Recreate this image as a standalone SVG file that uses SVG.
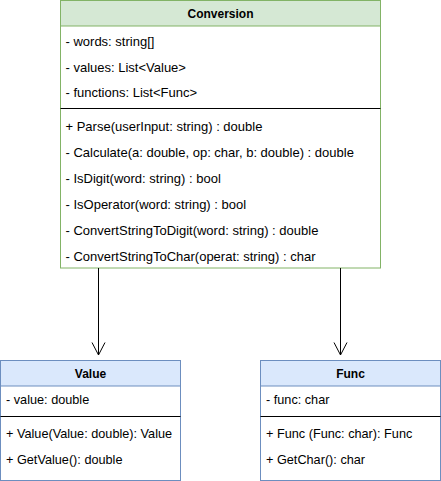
<svg xmlns="http://www.w3.org/2000/svg" width="441" height="481" viewBox="0 0 441 481">
<style>
text{font-family:"Liberation Sans",Arial,sans-serif;fill:#000}
.h{font-size:12px;font-weight:bold;text-anchor:middle}
.t{font-size:13px}
.s{font-size:12.7px}
.g{fill:#d5e8d4;stroke:#82b366;stroke-width:1}
.b{fill:#dae8fc;stroke:#6c8ebf;stroke-width:1}
.gw{fill:#fff;stroke:#82b366;stroke-width:1}
.bw{fill:#fff;stroke:#6c8ebf;stroke-width:1}
.sep{stroke:#000;stroke-width:1}
.c{stroke:#000;stroke-width:1;fill:none}
</style>
<rect width="441" height="481" fill="#fff"/>
<g id="Conversion">
<rect class="gw" x="60.5" y="0.5" width="320" height="267.5"/>
<rect class="g" x="60.5" y="0.5" width="320" height="25.5"/>
<text class="h" x="220.5" y="18">Conversion</text>
<text class="t" x="65.5" y="45.5">- words: string[]</text>
<text class="t" x="65.5" y="71.5">- values: List&lt;Value&gt;</text>
<text class="t" x="65.5" y="97">- functions: List&lt;Func&gt;</text>
<line class="sep" x1="60.5" y1="108.5" x2="380.5" y2="108.5"/>
<text class="t" x="65.5" y="130.5">+ Parse(userInput: string) : double</text>
<text class="t" x="65.5" y="156.5">- Calculate(a: double, op: char, b: double) : double</text>
<text class="t" x="65.5" y="182.5">- IsDigit(word: string) : bool</text>
<text class="t" x="65.5" y="208.5">- IsOperator(word: string) : bool</text>
<text class="t" x="65.5" y="234.5">- ConvertStringToDigit(word: string) : double</text>
<text class="t" x="65.5" y="260.5">- ConvertStringToChar(operat: string) : char</text>
</g>
<g id="Value">
<rect class="bw" x="0.5" y="360.5" width="180" height="120"/>
<rect class="b" x="0.5" y="360.5" width="180" height="25.5"/>
<text class="h" x="90.5" y="378">Value</text>
<text class="s" x="6" y="404">- value: double</text>
<line class="sep" x1="0.5" y1="416.5" x2="180.5" y2="416.5"/>
<text class="s" x="6" y="438">+ Value(Value: double): Value</text>
<text class="s" x="6" y="464">+ GetValue(): double</text>
</g>
<g id="Func">
<rect class="bw" x="260.5" y="360.5" width="180" height="120"/>
<rect class="b" x="260.5" y="360.5" width="180" height="25.5"/>
<text class="h" x="350.5" y="378">Func</text>
<text class="s" x="266" y="404">- func: char</text>
<line class="sep" x1="260.5" y1="416.5" x2="440.5" y2="416.5"/>
<text class="s" x="266" y="438">+ Func (Func: char): Func</text>
<text class="s" x="266" y="464">+ GetChar(): char</text>
</g>
<g id="connectors">
<path class="c" d="M98.5 268V355M92 342.5L98.5 355L105 342.5"/>
<path class="c" d="M340.5 268V355M334 342.5L340.5 355L347 342.5"/>
</g>
</svg>
